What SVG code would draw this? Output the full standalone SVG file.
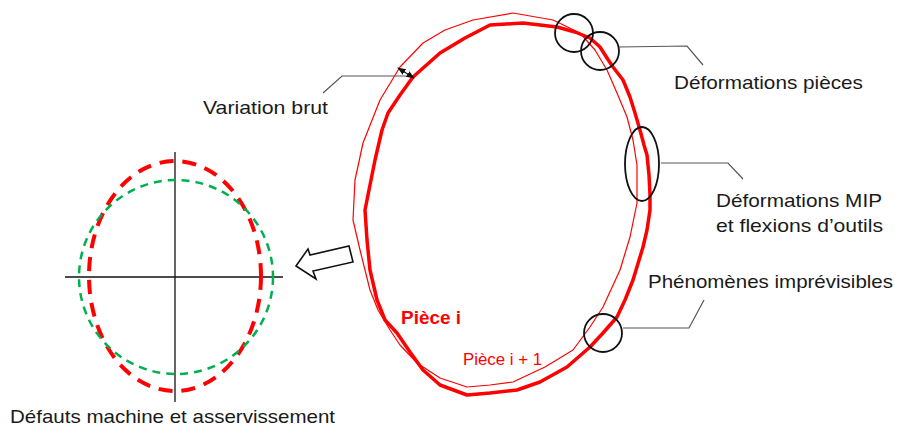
<svg xmlns="http://www.w3.org/2000/svg" width="898" height="429" viewBox="0 0 898 429">
<defs>
<style>
.t{font-family:"Liberation Sans",Arial,sans-serif;font-size:19px;fill:#1a1a1a}
.lead{fill:none;stroke:#555;stroke-width:1.2}
.mark{fill:none;stroke:#111;stroke-width:1.8}
.ax{stroke:#111;stroke-width:1.3}
</style>
<marker id="ah" viewBox="0 0 10 10" refX="9" refY="5" markerWidth="7" markerHeight="7" orient="auto-start-reverse"><path d="M0,1 L10,5 L0,9 Z" fill="#111"/></marker>
</defs>
<rect width="898" height="429" fill="#fff"/>
<g id="piece-thin">
<path d="M473,20 L513,13 L553,20 L580,33 L595,50 L607,70 L617,93 L627,117 L633,140 L637,165 L637,203 L630,237 L620,270 L603,307 L590,327 L573,350 L545,367 L513,382 L490,385 L467,387 L440,378 L417,363 L400,345 L390,330 L378,310 L370,290 L360,250 L353,220 L355,180 L363,143 L380,100 L400,67 L423,43 L445,30 Z" fill="none" stroke="#f00" stroke-width="1.2" stroke-linejoin="round"/>
</g>
<g id="piece-thick">
<path d="M490,25 L523,23 L557,27 L575,32 L590,38 L600,47 L607,58 L613,67 L623,80 L630,97 L635,113 L640,130 L644,145 L647,155 L649,175 L650,195 L650,210 L647,230 L643,247 L633,280 L625,300 L617,317 L603,333 L590,347 L567,367 L540,382 L517,390 L490,393 L467,395 L440,385 L423,370 L410,352 L397,333 L385,320 L377,300 L370,270 L367,240 L365,210 L370,185 L375,160 L382,130 L388,113 L400,95 L413,77 L440,53 L465,38 Z" fill="none" stroke="#f00" stroke-width="3.5" stroke-linejoin="round"/>
</g>
<g id="circle-defo-1"><circle cx="574" cy="33" r="19" class="mark"/></g>
<g id="circle-defo-2"><circle cx="600" cy="51" r="19" class="mark"/></g>
<g id="ellipse-mip"><ellipse cx="642" cy="164" rx="17" ry="37" class="mark"/></g>
<g id="circle-imprev"><circle cx="603" cy="333" r="19" class="mark"/></g>
<g id="defauts">
<line x1="65" y1="277" x2="283" y2="277" class="ax"/>
<line x1="175" y1="152" x2="175" y2="402" class="ax"/>
<ellipse cx="175" cy="276" rx="86" ry="115" fill="none" stroke="#f00" stroke-width="4" stroke-dasharray="14 9"/>
<ellipse cx="176" cy="277" rx="97" ry="97" fill="none" stroke="#00b050" stroke-width="2.5" stroke-dasharray="8 6"/>
</g>
<g id="hollow-arrow">
<polygon points="296,266 308,249 310,255 349,246 353,262 313,271 316,279" fill="#fff" stroke="#111" stroke-width="1.6" stroke-linejoin="miter"/>
</g>
<g id="connectors">
<polyline points="619,47 687,46 703,65" class="lead"/>
<polyline points="661,163 728,163 743,179" class="lead"/>
<polyline points="623,328 689,328 704,300" class="lead"/>
<polyline points="323,93 342,76 414,76" class="lead"/>
<line x1="398" y1="68" x2="414" y2="78" stroke="#111" stroke-width="1.2" marker-start="url(#ah)" marker-end="url(#ah)"/>
</g>
<g id="labels">
<text class="t" x="203" y="114" textLength="125" lengthAdjust="spacingAndGlyphs">Variation brut</text>
<text class="t" x="674" y="89" textLength="189" lengthAdjust="spacingAndGlyphs">Déformations pièces</text>
<text class="t" x="716" y="207" textLength="166" lengthAdjust="spacingAndGlyphs">Déformations MIP</text>
<text class="t" x="716" y="232" textLength="167" lengthAdjust="spacingAndGlyphs">et flexions d’outils</text>
<text class="t" x="648" y="288" textLength="245" lengthAdjust="spacingAndGlyphs">Phénomènes imprévisibles</text>
<text class="t" x="10" y="423" textLength="325" lengthAdjust="spacingAndGlyphs">Défauts machine et asservissement</text>
<text x="401" y="324" font-family="Liberation Sans,Arial,sans-serif" font-size="18" font-weight="bold" fill="#f00" textLength="60" lengthAdjust="spacingAndGlyphs">Pièce i</text>
<text x="463" y="365" font-family="Liberation Sans,Arial,sans-serif" font-size="16" fill="#f00" textLength="79" lengthAdjust="spacingAndGlyphs">Pièce i + 1</text>
</g>
</svg>
